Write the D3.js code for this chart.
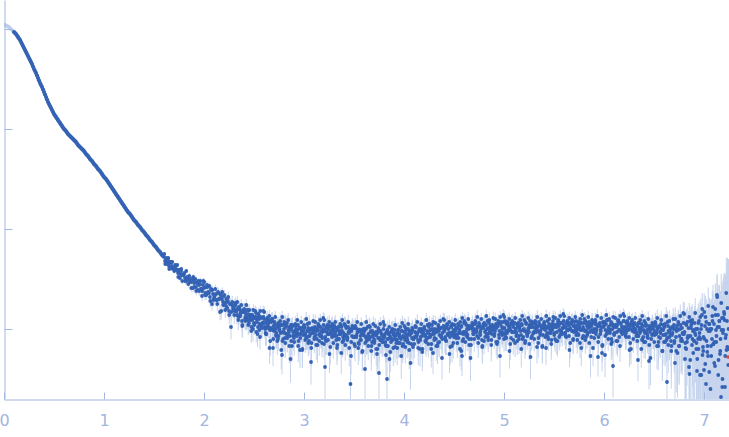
<!DOCTYPE html>
<html><head><meta charset="utf-8">
<script src="https://cdn.jsdelivr.net/npm/d3@7"></script>
<style>body{margin:0;background:#fff}svg{display:block}</style>
</head><body>
<svg id="c" width="729" height="437"></svg>
<script>
// Scattering curve: q (x) vs log10 I (y)
const excludedQ = [0.01,0.03,0.05,0.07,0.09];
const excludedLogI = [0.04,0.03,0.02,0.00,-0.02];

const smoothQ = [
0.10,0.11,0.12,0.13,0.14,0.15,0.16,0.17,0.18,0.19,
0.20,0.21,0.22,0.23,0.24,0.25,0.26,0.27,0.28,0.29,
0.30,0.31,0.32,0.33,0.34,0.35,0.36,0.37,0.38,0.39,
0.40,0.41,0.42,0.43,0.44,0.45,0.46,0.47,0.48,0.49,
0.50,0.51,0.52,0.53,0.54,0.55,0.56,0.57,0.58,0.59,
0.60,0.61,0.62,0.63,0.64,0.65,0.66,0.67,0.68,0.69,
0.70,0.71,0.72,0.73,0.74,0.75,0.76,0.77,0.78,0.79,
0.80,0.81,0.82,0.83,0.84,0.85,0.86,0.87,0.88,0.89,
0.90,0.91,0.92,0.93,0.94,0.95,0.96,0.97,0.98,0.99,
1.00,1.01,1.02,1.03,1.04,1.05,1.06,1.07,1.08,1.09,
1.10,1.11,1.12,1.13,1.14,1.15,1.16,1.17,1.18,1.19,
1.20,1.21,1.22,1.23,1.24,1.25,1.26,1.27,1.28,1.29,
1.30,1.31,1.32,1.33,1.34,1.35,1.36,1.37,1.38,1.39,
1.40,1.41,1.42,1.43,1.44,1.45,1.46,1.47,1.48,1.49,
1.50,1.51,1.52,1.53,1.54,1.55,1.56,1.57,1.58,1.59];
const smoothLogI = [
-0.03,-0.04,-0.05,-0.065,-0.08,-0.095,-0.11,-0.13,-0.15,-0.17,
-0.19,-0.21,-0.23,-0.25,-0.27,-0.29,-0.31,-0.33,-0.35,-0.375,
-0.40,-0.42,-0.44,-0.465,-0.49,-0.515,-0.54,-0.56,-0.58,-0.605,
-0.63,-0.655,-0.68,-0.705,-0.73,-0.75,-0.77,-0.79,-0.81,-0.83,
-0.85,-0.865,-0.88,-0.895,-0.91,-0.925,-0.94,-0.955,-0.97,-0.985,
-1.00,-1.01,-1.02,-1.035,-1.05,-1.06,-1.07,-1.08,-1.09,-1.10,
-1.11,-1.12,-1.13,-1.145,-1.16,-1.17,-1.18,-1.19,-1.20,-1.21,
-1.22,-1.235,-1.25,-1.26,-1.27,-1.285,-1.30,-1.31,-1.32,-1.335,
-1.35,-1.36,-1.37,-1.385,-1.40,-1.41,-1.42,-1.435,-1.45,-1.465,
-1.48,-1.49,-1.50,-1.515,-1.53,-1.545,-1.56,-1.575,-1.59,-1.605,
-1.62,-1.635,-1.65,-1.665,-1.68,-1.695,-1.71,-1.725,-1.74,-1.755,
-1.77,-1.785,-1.80,-1.815,-1.83,-1.84,-1.85,-1.865,-1.88,-1.895,
-1.91,-1.92,-1.93,-1.945,-1.96,-1.97,-1.98,-1.995,-2.01,-2.02,
-2.03,-2.045,-2.06,-2.07,-2.08,-2.095,-2.11,-2.12,-2.13,-2.145,
-2.16,-2.17,-2.18,-2.195,-2.21,-2.22,-2.23,-2.245,-2.26,-2.27];

const noisyQ = [
1.60,1.61,1.62,1.63,1.64,1.65,1.66,1.67,1.68,1.69,
1.70,1.71,1.72,1.73,1.74,1.75,1.76,1.77,1.78,1.79,
1.80,1.81,1.82,1.83,1.84,1.85,1.86,1.87,1.88,1.89,
1.90,1.91,1.92,1.93,1.94,1.95,1.96,1.97,1.98,1.99,
2.00,2.01,2.02,2.03,2.04,2.05,2.06,2.07,2.08,2.09,
2.10,2.11,2.12,2.13,2.14,2.15,2.16,2.17,2.18,2.19,
2.20,2.21,2.22,2.23,2.24,2.25,2.26,2.27,2.28,2.29,
2.30,2.31,2.32,2.33,2.34,2.35,2.36,2.37,2.38,2.39,
2.40,2.41,2.42,2.43,2.44,2.45,2.46,2.47,2.48,2.49,
2.50,2.51,2.52,2.53,2.54,2.55,2.56,2.57,2.58,2.59,
2.60,2.61,2.62,2.63,2.64,2.65,2.66,2.67,2.68,2.69,
2.70,2.71,2.72,2.73,2.74,2.75,2.76,2.77,2.78,2.79,
2.80,2.81,2.82,2.83,2.84,2.85,2.86,2.87,2.88,2.89,
2.90,2.91,2.92,2.93,2.94,2.95,2.96,2.97,2.98,2.99,
3.00,3.01,3.02,3.03,3.04,3.05,3.06,3.07,3.08,3.09,
3.10,3.11,3.12,3.13,3.14,3.15,3.16,3.17,3.18,3.19,
3.20,3.21,3.22,3.23,3.24,3.25,3.26,3.27,3.28,3.29,
3.30,3.31,3.32,3.33,3.34,3.35,3.36,3.37,3.38,3.39,
3.40,3.41,3.42,3.43,3.44,3.45,3.46,3.47,3.48,3.49,
3.50,3.51,3.52,3.53,3.54,3.55,3.56,3.57,3.58,3.59,
3.60,3.61,3.62,3.63,3.64,3.65,3.66,3.67,3.68,3.69,
3.70,3.71,3.72,3.73,3.74,3.75,3.76,3.77,3.78,3.79,
3.80,3.81,3.82,3.83,3.84,3.85,3.86,3.87,3.88,3.89,
3.90,3.91,3.92,3.93,3.94,3.95,3.96,3.97,3.98,3.99,
4.00,4.01,4.02,4.03,4.04,4.05,4.06,4.07,4.08,4.09,
4.10,4.11,4.12,4.13,4.14,4.15,4.16,4.17,4.18,4.19,
4.20,4.21,4.22,4.23,4.24,4.25,4.26,4.27,4.28,4.29,
4.30,4.31,4.32,4.33,4.34,4.35,4.36,4.37,4.38,4.39,
4.40,4.41,4.42,4.43,4.44,4.45,4.46,4.47,4.48,4.49,
4.50,4.51,4.52,4.53,4.54,4.55,4.56,4.57,4.58,4.59,
4.60,4.61,4.62,4.63,4.64,4.65,4.66,4.67,4.68,4.69,
4.70,4.71,4.72,4.73,4.74,4.75,4.76,4.77,4.78,4.79,
4.80,4.81,4.82,4.83,4.84,4.85,4.86,4.87,4.88,4.89,
4.90,4.91,4.92,4.93,4.94,4.95,4.96,4.97,4.98,4.99,
5.00,5.01,5.02,5.03,5.04,5.05,5.06,5.07,5.08,5.09,
5.10,5.11,5.12,5.13,5.14,5.15,5.16,5.17,5.18,5.19,
5.20,5.21,5.22,5.23,5.24,5.25,5.26,5.27,5.28,5.29,
5.30,5.31,5.32,5.33,5.34,5.35,5.36,5.37,5.38,5.39,
5.40,5.41,5.42,5.43,5.44,5.45,5.46,5.47,5.48,5.49,
5.50,5.51,5.52,5.53,5.54,5.55,5.56,5.57,5.58,5.59,
5.60,5.61,5.62,5.63,5.64,5.65,5.66,5.67,5.68,5.69,
5.70,5.71,5.72,5.73,5.74,5.75,5.76,5.77,5.78,5.79,
5.80,5.81,5.82,5.83,5.84,5.85,5.86,5.87,5.88,5.89,
5.90,5.91,5.92,5.93,5.94,5.95,5.96,5.97,5.98,5.99,
6.00,6.01,6.02,6.03,6.04,6.05,6.06,6.07,6.08,6.09,
6.10,6.11,6.12,6.13,6.14,6.15,6.16,6.17,6.18,6.19,
6.20,6.21,6.22,6.23,6.24,6.25,6.26,6.27,6.28,6.29,
6.30,6.31,6.32,6.33,6.34,6.35,6.36,6.37,6.38,6.39,
6.40,6.41,6.42,6.43,6.44,6.45,6.46,6.47,6.48,6.49,
6.50,6.51,6.52,6.53,6.54,6.55,6.56,6.57,6.58,6.59,
6.60,6.61,6.62,6.63,6.64,6.65,6.66,6.67,6.68,6.69,
6.70,6.71,6.72,6.73,6.74,6.75,6.76,6.77,6.78,6.79,
6.80,6.81,6.82,6.83,6.84,6.85,6.86,6.87,6.88,6.89,
6.90,6.91,6.92,6.93,6.94,6.95,6.96,6.97,6.98,6.99,
7.00,7.01,7.02,7.03,7.04,7.05,7.06,7.07,7.08,7.09,
7.10,7.11,7.12,7.13,7.14,7.15,7.16,7.17,7.18,7.19,
7.20,7.21,7.22,7.23,7.24];

const noisyLogI = [
-2.28,-2.32,-2.31,-2.33,-2.31,-2.37,-2.34,-2.33,-2.37,-2.40,
-2.40,-2.38,-2.37,-2.41,-2.44,-2.41,-2.49,-2.42,-2.46,-2.46,
-2.45,-2.49,-2.52,-2.48,-2.50,-2.49,-2.53,-2.53,-2.50,-2.59,
-2.54,-2.53,-2.58,-2.54,-2.61,-2.56,-2.55,-2.60,-2.67,-2.56,
-2.59,-2.66,-2.58,-2.56,-2.64,-2.64,-2.68,-2.60,-2.75,-2.65,
-2.70,-2.66,-2.65,-2.71,-2.63,-2.70,-2.83,-2.67,-2.70,-2.73,
-2.67,-2.74,-2.77,-2.73,-2.72,-2.82,-2.75,-2.98,-2.76,-2.79,
-2.79,-2.76,-2.82,-2.86,-2.80,-2.78,-2.86,-2.82,-2.92,-2.82,
-2.83,-2.90,-2.85,-2.89,-2.82,-2.94,-2.88,-2.86,-2.91,-3.00,
-2.94,-2.89,-2.84,-2.93,-2.98,-2.90,-3.08,-2.89,-2.96,-2.94,
-2.90,-2.98,-3.05,-2.94,-2.97,-2.91,-3.01,-3.00,-2.90,-3.19,
-3.00,-2.95,-3.06,-2.97,-3.10,-2.99,-2.96,-3.04,-3.26,-2.96,
-3.00,-3.09,-2.98,-2.94,-3.05,-3.03,-3.07,-2.96,-3.17,-3.03,
-3.09,-3.02,-3.00,-3.07,-2.96,-3.05,-3.21,-2.99,-3.02,-3.06,
-2.96,-3.05,-3.08,-3.02,-2.99,-3.12,-3.01,-3.33,-3.00,-3.04,
-3.03,-2.98,-3.06,-3.10,-3.01,-2.97,-3.07,-3.02,-3.14,-3.00,
-3.15,-3.38,-2.99,-3.03,-3.11,-2.97,-3.05,-3.02,-3.08,-3.00,
-3.03,-3.06,-2.99,-3.19,-3.01,-3.10,-3.05,-2.97,-3.02,-3.08,
-3.10,-2.96,-3.06,-3.08,-2.98,-3.04,-3.02,-3.27,-3.07,-2.99,
-2.99,-3.17,-3.08,-3.00,-3.03,-3.15,-3.02,-3.11,-3.01,-3.06,
-3.06,-3.40,-3.00,-3.11,-3.07,-3.09,-2.98,-3.02,-3.13,-3.04,
-3.10,-3.06,-3.03,-3.25,-3.09,-3.44,-3.11,-3.04,-3.06,-3.13,
-3.09,-3.05,-3.26,-3.50,-3.17,-3.04,-3.07,-3.13,-3.10,-3.01,
-3.04,-3.18,-3.06,-3.11,-3.01,-3.05,-3.14,-3.10,-3.02,-3.07,
-3.03,-3.11,-3.05,-3.08,-3.00,-3.14,-3.06,-3.02,-3.09,-3.18,
-3.09,-3.03,-2.98,-3.06,-3.11,-3.02,-3.20,-3.00,-3.07,-3.04,
-2.99,-3.07,-3.13,-3.02,-3.04,-2.98,-3.08,-3.06,-2.96,-3.24,
-3.05,-3.00,-3.10,-3.01,-3.14,-3.02,-2.99,-3.07,-3.29,-2.98,
-3.01,-3.10,-2.99,-2.95,-3.06,-3.04,-3.08,-2.97,-3.17,-3.03,
-3.08,-3.01,-2.99,-3.06,-2.95,-3.04,-3.20,-2.98,-3.27,-3.05,
-2.94,-3.03,-3.06,-3.00,-2.97,-3.10,-2.99,-3.16,-2.98,-3.02,
-3.00,-2.95,-3.03,-3.07,-2.98,-2.94,-3.04,-2.99,-3.11,-2.97,
-3.12,-3.03,-2.96,-3.00,-3.08,-2.94,-3.02,-2.99,-3.05,-2.97,
-2.99,-3.02,-2.95,-3.15,-2.97,-3.06,-3.27,-2.93,-2.98,-3.04,
-3.10,-2.92,-3.02,-3.04,-2.94,-3.00,-2.98,-3.09,-3.03,-2.95,
-2.94,-3.14,-3.03,-2.95,-2.98,-3.10,-2.97,-3.06,-2.96,-3.01,
-3.00,-3.14,-2.94,-3.05,-3.01,-3.03,-2.92,-2.96,-3.07,-2.98,
-3.03,-2.99,-2.96,-3.18,-3.02,-2.93,-3.04,-2.97,-2.99,-3.06,
-3.00,-2.97,-3.19,-2.98,-3.08,-2.95,-2.99,-3.04,-3.01,-2.92,
-2.96,-3.10,-2.98,-3.03,-2.93,-2.97,-3.06,-3.02,-2.94,-2.99,
-2.96,-3.04,-2.98,-3.01,-2.93,-3.07,-2.99,-2.95,-3.02,-3.11,
-3.03,-2.97,-2.92,-3.00,-3.05,-2.96,-3.14,-2.94,-3.01,-2.98,
-2.94,-3.02,-3.08,-2.97,-2.99,-2.93,-3.03,-3.01,-2.91,-3.19,
-3.00,-2.95,-3.05,-2.96,-3.28,-2.97,-2.94,-3.02,-3.24,-2.93,
-2.97,-3.26,-2.95,-2.91,-3.02,-3.00,-3.04,-2.93,-3.13,-3.37,
-3.05,-2.98,-2.96,-3.03,-2.92,-3.01,-3.17,-2.95,-2.98,-3.02,
-2.92,-3.01,-3.04,-2.98,-2.95,-3.08,-2.97,-3.20,-2.96,-3.00,
-3.00,-2.95,-3.03,-3.07,-3.31,-2.94,-3.04,-2.99,-3.11,-2.97,
-3.13,-3.04,-2.97,-3.01,-3.09,-3.32,-3.03,-3.00,-3.06,-2.98,
-3.01,-3.04,-2.97,-3.17,-2.99,-3.08,-3.03,-2.95,-3.00,-3.06,
-3.13,-2.95,-3.05,-3.53,-2.97,-3.03,-3.01,-3.12,-3.06,-2.98,
-2.96,-3.34,-3.08,-2.97,-3.01,-3.17,-3.00,-3.12,-2.99,-3.05,
-3.05,-3.30,-2.95,-3.13,-3.07,-3.38,-2.92,-2.99,-3.16,-3.02,
-3.12,-3.04,-3.00,-3.42,-3.10,-2.92,-3.46,-3.00,-2.86,-3.18,
-3.41,-2.97,-3.55,-3.00,-3.27,-2.95,-3.02,-3.17,-3.10,-2.78,
-2.95,-3.37,-3.01,-2.66,-2.86,-2.98,-3.25,-3.68,-2.89,-3.04,
-2.83,-3.58,-3.06,-2.92,-3.20];

// error (sigma) of I, in units of 1e-4
const noisySigmaE4 = [
/*1.6*/1.5,1.5,1.6,1.5,1.6,1.5,1.7,1.6,1.7,1.8,
/*1.7*/1.8,1.9,2.0,1.9,2.0,2.1,2.0,2.1,2.0,2.1,
/*1.8*/2.0,2.1,2.2,2.1,2.2,2.0,2.2,2.3,2.2,2.3,
/*1.9*/2.2,2.3,2.2,2.4,2.3,2.4,2.3,2.4,2.5,2.4,
/*2.0*/2.5,2.4,2.6,2.5,2.4,2.6,2.5,2.7,2.5,2.6,
/*2.1*/2.6,2.5,2.7,2.6,2.7,2.5,2.6,2.7,2.8,2.6,
/*2.2*/2.6,2.7,2.5,2.7,2.6,2.7,2.8,2.6,2.7,2.8,
/*2.3*/2.6,2.7,2.5,2.7,2.6,2.7,2.6,2.5,2.7,2.6,
/*2.4*/2.4,2.5,2.3,2.5,2.4,2.5,2.4,2.3,2.4,2.5,
/*2.5*/2.1,2,2.2,2.1,1.9,2.3,2.1,2.2,2,2.1,
/*2.6*/2,2.2,2.1,2.3,2.1,2,2.2,1.9,2.1,2.2,
/*2.7*/2.1,2,2.2,2.1,1.9,2.3,2.1,2.2,2,2.1,
/*2.8*/2,2.2,2.1,2.3,2.1,2,2.2,1.9,2.1,2.2,
/*2.9*/2.1,2,2.2,2.1,1.9,2.3,2.1,2.2,2,2.1,
/*3.0*/2,2.2,2.1,2.3,2.1,2,2.2,1.9,2.1,2.2,
/*3.1*/2.1,2,2.2,2.1,1.9,2.3,2.1,2.2,2,2.1,
/*3.2*/2,2.2,2.1,2.3,2.1,2,2.2,1.9,2.1,2.2,
/*3.3*/2.1,2,2.2,2.1,1.9,2.3,2.1,2.2,2,2.1,
/*3.4*/2,2.2,2.1,2.3,2.1,2,2.2,1.9,2.1,2.2,
/*3.5*/2.1,2,2.2,2.1,1.9,2.3,2.1,2.2,2,2.1,
/*3.6*/2,2.2,2.1,2.3,2.1,2,2.2,1.9,2.1,2.2,
/*3.7*/2.1,2,2.2,2.1,1.9,2.3,2.1,2.2,2,2.1,
/*3.8*/2,2.2,2.1,2.3,2.1,2,2.2,1.9,2.1,2.2,
/*3.9*/2.1,2,2.2,2.1,1.9,2.3,2.1,2.2,2,2.1,
/*4.0*/2,2.2,2.1,2.3,2.1,2,2.2,1.9,2.1,2.2,
/*4.1*/2.1,2,2.2,2.1,1.9,2.3,2.1,2.2,2,2.1,
/*4.2*/2,2.2,2.1,2.3,2.1,2,2.2,1.9,2.1,2.2,
/*4.3*/2.1,2,2.2,2.1,1.9,2.3,2.1,2.2,2,2.1,
/*4.4*/2,2.2,2.1,2.3,2.1,2,2.2,1.9,2.1,2.2,
/*4.5*/2.1,2,2.2,2.1,1.9,2.3,2.1,2.2,2,2.1,
/*4.6*/2,2.2,2.1,2.3,2.1,2,2.2,1.9,2.1,2.2,
/*4.7*/2.1,2,2.2,2.1,1.9,2.3,2.1,2.2,2,2.1,
/*4.8*/2,2.2,2.1,2.3,2.1,2,2.2,1.9,2.1,2.2,
/*4.9*/2.1,2,2.2,2.1,1.9,2.3,2.1,2.2,2,2.1,
/*5.0*/2,2.2,2.1,2.3,2.1,2,2.2,1.9,2.1,2.2,
/*5.1*/2.1,2,2.2,2.1,1.9,2.3,2.1,2.2,2,2.1,
/*5.2*/2,2.2,2.1,2.3,2.1,2,2.2,1.9,2.1,2.2,
/*5.3*/2.1,2,2.2,2.1,1.9,2.3,2.1,2.2,2,2.1,
/*5.4*/2,2.2,2.1,2.3,2.1,2,2.2,1.9,2.1,2.2,
/*5.5*/2.1,2,2.2,2.1,1.9,2.3,2.1,2.2,2,2.1,
/*5.6*/2,2.2,2.1,2.3,2.1,2,2.2,1.9,2.1,2.2,
/*5.7*/2.1,2,2.2,2.1,1.9,2.3,2.1,2.2,2,2.1,
/*5.8*/2,2.2,2.1,2.3,2.1,2,2.2,1.9,2.1,2.2,
/*5.9*/2.1,2,2.2,2.1,1.9,2.3,2.1,2.2,2,2.1,
/*6.0*/2,2.2,2.1,2.3,2.1,2,2.2,1.9,2.1,2.2,
/*6.1*/2.1,2,2.2,2.1,1.9,2.3,2.1,2.2,2,2.1,
/*6.2*/2,2.2,2.1,2.3,2.1,2,2.2,1.9,2.1,2.2,
/*6.3*/2.1,2,2.2,2.1,1.9,2.3,2.1,2.2,2,2.1,
/*6.4*/2.3,2.2,2.4,2.3,2.5,2.3,2.4,2.5,2.4,2.6,
/*6.5*/2.6,2.7,2.6,2.8,2.7,2.9,2.8,2.9,3.0,2.9,
/*6.6*/3.0,3.1,3.0,3.2,3.1,3.3,3.2,3.4,3.3,3.5,
/*6.7*/3.5,3.6,3.7,3.6,3.8,3.9,3.8,4.0,4.1,4.2,
/*6.8*/4.3,4.5,4.4,4.7,4.6,4.9,4.8,5.1,5.2,5.4,
/*6.9*/5.5,5.8,5.7,6.1,6.0,6.4,6.3,6.7,6.9,7.2,
/*7.0*/7.6,8.0,7.9,8.5,8.7,9.3,9.1,9.9,10.3,11,
/*7.1*/11.5,12.3,12.6,13.5,14,15,15.5,16.5,17.5,19,
/*7.2*/21,24,28,33,38];

// second interleaved set
const halfQ = [
2.305,2.315,2.325,2.335,2.345,2.355,2.365,2.375,2.385,2.395,
2.405,2.415,2.425,2.435,2.445,2.455,2.465,2.475,2.485,2.495,
2.505,2.515,2.525,2.535,2.545,2.555,2.565,2.575,2.585,2.595,
2.605,2.615,2.625,2.635,2.645,2.655,2.665,2.675,2.685,2.695,
2.705,2.715,2.725,2.735,2.745,2.755,2.765,2.775,2.785,2.795,
2.805,2.815,2.825,2.835,2.845,2.855,2.865,2.875,2.885,2.895,
2.905,2.915,2.925,2.935,2.945,2.955,2.965,2.975,2.985,2.995,
3.005,3.015,3.025,3.035,3.045,3.055,3.065,3.075,3.085,3.095,
3.105,3.115,3.125,3.135,3.145,3.155,3.165,3.175,3.185,3.195,
3.205,3.215,3.225,3.235,3.245,3.255,3.265,3.275,3.285,3.295,
3.305,3.315,3.325,3.335,3.345,3.355,3.365,3.375,3.385,3.395,
3.405,3.415,3.425,3.435,3.445,3.455,3.465,3.475,3.485,3.495,
3.505,3.515,3.525,3.535,3.545,3.555,3.565,3.575,3.585,3.595,
3.605,3.615,3.625,3.635,3.645,3.655,3.665,3.675,3.685,3.695,
3.705,3.715,3.725,3.735,3.745,3.755,3.765,3.775,3.785,3.795,
3.805,3.815,3.825,3.835,3.845,3.855,3.865,3.875,3.885,3.895,
3.905,3.915,3.925,3.935,3.945,3.955,3.965,3.975,3.985,3.995,
4.005,4.015,4.025,4.035,4.045,4.055,4.065,4.075,4.085,4.095,
4.105,4.115,4.125,4.135,4.145,4.155,4.165,4.175,4.185,4.195,
4.205,4.215,4.225,4.235,4.245,4.255,4.265,4.275,4.285,4.295,
4.305,4.315,4.325,4.335,4.345,4.355,4.365,4.375,4.385,4.395,
4.405,4.415,4.425,4.435,4.445,4.455,4.465,4.475,4.485,4.495,
4.505,4.515,4.525,4.535,4.545,4.555,4.565,4.575,4.585,4.595,
4.605,4.615,4.625,4.635,4.645,4.655,4.665,4.675,4.685,4.695,
4.705,4.715,4.725,4.735,4.745,4.755,4.765,4.775,4.785,4.795,
4.805,4.815,4.825,4.835,4.845,4.855,4.865,4.875,4.885,4.895,
4.905,4.915,4.925,4.935,4.945,4.955,4.965,4.975,4.985,4.995,
5.005,5.015,5.025,5.035,5.045,5.055,5.065,5.075,5.085,5.095,
5.105,5.115,5.125,5.135,5.145,5.155,5.165,5.175,5.185,5.195,
5.205,5.215,5.225,5.235,5.245,5.255,5.265,5.275,5.285,5.295,
5.305,5.315,5.325,5.335,5.345,5.355,5.365,5.375,5.385,5.395,
5.405,5.415,5.425,5.435,5.445,5.455,5.465,5.475,5.485,5.495,
5.505,5.515,5.525,5.535,5.545,5.555,5.565,5.575,5.585,5.595,
5.605,5.615,5.625,5.635,5.645,5.655,5.665,5.675,5.685,5.695,
5.705,5.715,5.725,5.735,5.745,5.755,5.765,5.775,5.785,5.795,
5.805,5.815,5.825,5.835,5.845,5.855,5.865,5.875,5.885,5.895,
5.905,5.915,5.925,5.935,5.945,5.955,5.965,5.975,5.985,5.995,
6.005,6.015,6.025,6.035,6.045,6.055,6.065,6.075,6.085,6.095,
6.105,6.115,6.125,6.135,6.145,6.155,6.165,6.175,6.185,6.195,
6.205,6.215,6.225,6.235,6.245,6.255,6.265,6.275,6.285,6.295,
6.305,6.315,6.325,6.335,6.345,6.355,6.365,6.375,6.385,6.395,
6.405,6.415,6.425,6.435,6.445,6.455,6.465,6.475,6.485,6.495,
6.505,6.515,6.525,6.535,6.545,6.555,6.565,6.575,6.585,6.595,
6.605,6.615,6.625,6.635,6.645,6.655,6.665,6.675,6.685,6.695,
6.705,6.715,6.725,6.735,6.745,6.755,6.765,6.775,6.785,6.795,
6.805,6.815,6.825,6.835,6.845,6.855,6.865,6.875,6.885,6.895,
6.905,6.915,6.925,6.935,6.945,6.955,6.965,6.975,6.985,6.995,
7.005,7.015,7.025,7.035,7.045,7.055,7.065,7.075,7.085,7.095,
7.105,7.115,7.125,7.135,7.145,7.155,7.165,7.175,7.185,7.195,
7.205,7.215,7.225,7.235,7.245];

const halfLogI = [
/*2.3*/-2.82,-2.76,-2.82,-2.80,-2.88,-2.80,-2.84,-2.83,-2.96,-2.81,
/*2.4*/-2.82,-2.88,-2.91,-2.81,-2.86,-2.91,-2.86,-2.98,-2.90,-2.88,
/*2.5*/-2.95,-2.88,-2.90,-3.05,-2.86,-2.95,-2.88,-2.98,-2.94,-2.88,
/*2.6*/-2.94,-3.04,-2.91,-2.98,-2.94,-3.19,-2.99,-2.92,-3.01,-2.97,
/*2.7*/-2.93,-3.00,-3.04,-2.97,-3.07,-3.00,-3.03,-2.96,-3.12,-3.03,
/*2.8*/-3.04,-2.95,-3.05,-3.07,-3.01,-2.98,-3.30,-3.00,-2.97,-3.07,
/*2.9*/-3.06,-2.97,-3.04,-3.01,-3.12,-2.99,-3.05,-3.02,-3.20,-2.98,
/*3.0*/-2.99,-3.05,-3.09,-2.95,-3.02,-3.07,-3.00,-3.14,-3.04,-3.01,
/*3.1*/-3.08,-3.00,-3.02,-3.16,-2.97,-3.05,-2.98,-3.07,-3.03,-2.96,
/*3.2*/-3.02,-3.11,-2.98,-3.05,-3.00,-3.25,-3.04,-2.97,-3.06,-3.01,
/*3.3*/-2.97,-3.03,-3.07,-3.00,-3.10,-3.02,-3.05,-2.98,-3.13,-3.04,
/*3.4*/-3.06,-2.97,-3.07,-3.09,-3.03,-3.00,-3.55,-3.02,-2.99,-3.08,
/*3.5*/-3.08,-2.99,-3.06,-3.03,-3.14,-3.01,-3.07,-3.04,-3.22,-3.00,
/*3.6*/-3.02,-3.08,-3.12,-2.98,-3.05,-3.10,-3.03,-3.17,-3.07,-3.04,
/*3.7*/-3.12,-3.04,-3.06,-3.20,-3.01,-3.09,-3.02,-3.11,-3.07,-3.00,
/*3.8*/-3.07,-3.16,-3.03,-3.10,-3.05,-3.30,-3.09,-3.02,-3.11,-3.06,
/*3.9*/-3.01,-3.07,-3.11,-3.04,-3.14,-3.06,-3.09,-3.02,-3.17,-3.08,
/*4.0*/-3.08,-2.99,-3.09,-3.11,-3.05,-3.02,-3.34,-3.04,-3.01,-3.10,
/*4.1*/-3.08,-2.98,-3.05,-3.04,-3.13,-3.00,-3.08,-3.03,-3.20,-3.01,
/*4.2*/-3.00,-3.06,-3.10,-2.96,-3.03,-3.08,-3.01,-3.15,-3.05,-3.02,
/*4.3*/-3.09,-3.01,-3.03,-3.17,-2.98,-3.06,-2.99,-3.08,-3.04,-2.97,
/*4.4*/-3.02,-3.11,-2.98,-3.05,-3.00,-3.25,-3.04,-2.97,-3.06,-3.01,
/*4.5*/-2.96,-3.02,-3.06,-2.99,-3.09,-3.01,-3.04,-2.97,-3.12,-3.03,
/*4.6*/-3.03,-2.94,-3.04,-3.06,-3.00,-2.97,-3.29,-2.99,-2.96,-3.05,
/*4.7*/-3.03,-2.94,-3.01,-2.98,-3.09,-2.96,-3.02,-2.99,-3.17,-2.95,
/*4.8*/-2.96,-3.02,-3.06,-2.92,-2.99,-3.04,-2.97,-3.11,-3.01,-2.98,
/*4.9*/-3.05,-2.97,-2.99,-3.13,-2.94,-3.02,-2.95,-3.04,-3.00,-2.93,
/*5.0*/-2.99,-3.08,-2.95,-3.02,-2.97,-3.22,-3.01,-2.94,-3.03,-2.98,
/*5.1*/-2.94,-3.00,-3.04,-2.97,-3.07,-2.99,-3.02,-2.95,-3.10,-3.01,
/*5.2*/-3.02,-2.93,-3.03,-3.05,-2.99,-2.96,-3.28,-2.98,-2.95,-3.04,
/*5.3*/-3.03,-2.94,-3.01,-2.98,-3.09,-2.96,-3.02,-2.99,-3.17,-2.95,
/*5.4*/-2.96,-3.01,-3.06,-2.92,-2.99,-3.04,-2.97,-3.11,-3.00,-2.98,
/*5.5*/-3.04,-2.96,-2.98,-3.12,-2.93,-3.01,-2.94,-3.03,-2.99,-2.92,
/*5.6*/-2.98,-3.07,-2.94,-3.01,-2.96,-3.21,-3.00,-2.93,-3.02,-2.97,
/*5.7*/-2.93,-2.99,-3.03,-2.96,-3.06,-2.98,-3.01,-2.94,-3.09,-3.00,
/*5.8*/-3.01,-2.92,-3.02,-3.04,-2.98,-2.95,-3.27,-2.97,-2.94,-3.03,
/*5.9*/-3.02,-2.93,-3.00,-2.97,-3.08,-2.95,-3.01,-2.98,-3.16,-2.94,
/*6.0*/-2.95,-3.01,-3.05,-2.91,-2.98,-3.03,-2.96,-3.10,-3.00,-2.97,
/*6.1*/-3.04,-2.96,-2.98,-3.12,-2.93,-3.01,-2.94,-3.03,-2.99,-2.92,
/*6.2*/-2.98,-3.07,-2.94,-3.01,-2.96,-3.21,-3.00,-2.93,-3.02,-2.97,
/*6.3*/-2.94,-3.00,-3.04,-2.97,-3.07,-2.99,-3.02,-2.95,-3.10,-3.01,
/*6.4*/-3.03,-2.94,-3.04,-3.06,-3.00,-2.97,-3.29,-2.99,-2.96,-3.05,
/*6.5*/-3.06,-2.95,-3.03,-3.00,-3.13,-2.97,-3.04,-3.01,-3.22,-2.96,
/*6.6*/-2.98,-3.06,-3.11,-2.93,-3.02,-3.08,-2.99,-3.17,-3.04,-3.00,
/*6.7*/-3.12,-3.00,-3.02,-3.24,-2.95,-3.07,-2.96,-3.10,-3.04,-2.94,
/*6.8*/-3.03,-3.19,-2.96,-3.09,-2.99,-3.45,-3.07,-2.94,-3.10,-3.01,
/*6.9*/-2.94,-3.06,-3.14,-3.00,-3.20,-3.04,-3.10,-2.96,-3.26,-3.08,
/*7.0*/-3.10,-2.88,-3.12,-3.17,-3.02,-2.95,-3.60,-3.00,-2.92,-3.15,
/*7.1*/-3.13,-2.86,-3.07,-2.98,-3.31,-2.92,-3.10,-3.01,-3.50,-2.89,
/*7.2*/-2.91,-3.09,-3.21,-2.79,-3.00];

const halfSigmaE4 = [
/*2.3*/2.6,2.7,2.6,2.7,2.8,2.6,2.7,2.8,2.7,2.8,
/*2.4*/2.5,2.4,2.6,2.5,2.4,2.5,2.6,2.4,2.5,2.6,
/*2.5*/2.2,2.1,2,2.3,2.1,2.2,1.9,2.1,2.2,2,
/*2.6*/2.1,2.3,2,2.1,2.2,2,2.1,2.3,2.1,1.9,
/*2.7*/2.2,2.1,2,2.3,2.1,2.2,1.9,2.1,2.2,2,
/*2.8*/2.1,2.3,2,2.1,2.2,2,2.1,2.3,2.1,1.9,
/*2.9*/2.2,2.1,2,2.3,2.1,2.2,1.9,2.1,2.2,2,
/*3.0*/2.1,2.3,2,2.1,2.2,2,2.1,2.3,2.1,1.9,
/*3.1*/2.2,2.1,2,2.3,2.1,2.2,1.9,2.1,2.2,2,
/*3.2*/2.1,2.3,2,2.1,2.2,2,2.1,2.3,2.1,1.9,
/*3.3*/2.2,2.1,2,2.3,2.1,2.2,1.9,2.1,2.2,2,
/*3.4*/2.1,2.3,2,2.1,2.2,2,2.1,2.3,2.1,1.9,
/*3.5*/2.2,2.1,2,2.3,2.1,2.2,1.9,2.1,2.2,2,
/*3.6*/2.1,2.3,2,2.1,2.2,2,2.1,2.3,2.1,1.9,
/*3.7*/2.2,2.1,2,2.3,2.1,2.2,1.9,2.1,2.2,2,
/*3.8*/2.1,2.3,2,2.1,2.2,2,2.1,2.3,2.1,1.9,
/*3.9*/2.2,2.1,2,2.3,2.1,2.2,1.9,2.1,2.2,2,
/*4.0*/2.1,2.3,2,2.1,2.2,2,2.1,2.3,2.1,1.9,
/*4.1*/2.2,2.1,2,2.3,2.1,2.2,1.9,2.1,2.2,2,
/*4.2*/2.1,2.3,2,2.1,2.2,2,2.1,2.3,2.1,1.9,
/*4.3*/2.2,2.1,2,2.3,2.1,2.2,1.9,2.1,2.2,2,
/*4.4*/2.1,2.3,2,2.1,2.2,2,2.1,2.3,2.1,1.9,
/*4.5*/2.2,2.1,2,2.3,2.1,2.2,1.9,2.1,2.2,2,
/*4.6*/2.1,2.3,2,2.1,2.2,2,2.1,2.3,2.1,1.9,
/*4.7*/2.2,2.1,2,2.3,2.1,2.2,1.9,2.1,2.2,2,
/*4.8*/2.1,2.3,2,2.1,2.2,2,2.1,2.3,2.1,1.9,
/*4.9*/2.2,2.1,2,2.3,2.1,2.2,1.9,2.1,2.2,2,
/*5.0*/2.1,2.3,2,2.1,2.2,2,2.1,2.3,2.1,1.9,
/*5.1*/2.2,2.1,2,2.3,2.1,2.2,1.9,2.1,2.2,2,
/*5.2*/2.1,2.3,2,2.1,2.2,2,2.1,2.3,2.1,1.9,
/*5.3*/2.2,2.1,2,2.3,2.1,2.2,1.9,2.1,2.2,2,
/*5.4*/2.1,2.3,2,2.1,2.2,2,2.1,2.3,2.1,1.9,
/*5.5*/2.2,2.1,2,2.3,2.1,2.2,1.9,2.1,2.2,2,
/*5.6*/2.1,2.3,2,2.1,2.2,2,2.1,2.3,2.1,1.9,
/*5.7*/2.2,2.1,2,2.3,2.1,2.2,1.9,2.1,2.2,2,
/*5.8*/2.1,2.3,2,2.1,2.2,2,2.1,2.3,2.1,1.9,
/*5.9*/2.2,2.1,2,2.3,2.1,2.2,1.9,2.1,2.2,2,
/*6.0*/2.1,2.3,2,2.1,2.2,2,2.1,2.3,2.1,1.9,
/*6.1*/2.2,2.1,2,2.3,2.1,2.2,1.9,2.1,2.2,2,
/*6.2*/2.1,2.3,2,2.1,2.2,2,2.1,2.3,2.1,1.9,
/*6.3*/2.2,2.1,2,2.3,2.1,2.2,1.9,2.1,2.2,2,
/*6.4*/2.4,2.3,2.5,2.4,2.3,2.5,2.4,2.6,2.5,2.6,
/*6.5*/2.7,2.8,2.7,2.9,2.8,3.0,2.9,2.8,3.0,3.1,
/*6.6*/3.1,3.2,3.1,3.3,3.2,3.4,3.3,3.5,3.4,3.6,
/*6.7*/3.6,3.7,3.8,3.7,3.9,4.0,3.9,4.1,4.2,4.3,
/*6.8*/4.4,4.5,4.7,4.6,4.9,5.0,4.9,5.2,5.3,5.5,
/*6.9*/5.6,5.8,5.9,6.1,6.2,6.5,6.4,6.7,7.0,7.3,
/*7.0*/7.7,8.1,8.0,8.6,8.9,9.3,9.5,10,10.5,11.3,
/*7.1*/12,12.6,13.2,13.8,14.6,15.4,16.1,17,18,19.5,
/*7.2*/22,26,30,35,40];

// third interleaved set
const thirdQ = [
1.6025,1.6125,1.6225,1.6325,1.6425,1.6525,1.6625,1.6725,1.6825,1.6925,
1.7025,1.7125,1.7225,1.7325,1.7425,1.7525,1.7625,1.7725,1.7825,1.7925,
1.8025,1.8125,1.8225,1.8325,1.8425,1.8525,1.8625,1.8725,1.8825,1.8925,
1.9025,1.9125,1.9225,1.9325,1.9425,1.9525,1.9625,1.9725,1.9825,1.9925,
2.0025,2.0125,2.0225,2.0325,2.0425,2.0525,2.0625,2.0725,2.0825,2.0925,
2.1025,2.1125,2.1225,2.1325,2.1425,2.1525,2.1625,2.1725,2.1825,2.1925,
2.2025,2.2125,2.2225,2.2325,2.2425,2.2525,2.2625,2.2725,2.2825,2.2925,
2.3025,2.3125,2.3225,2.3325,2.3425,2.3525,2.3625,2.3725,2.3825,2.3925,
2.4025,2.4125,2.4225,2.4325,2.4425,2.4525,2.4625,2.4725,2.4825,2.4925,
2.5025,2.5125,2.5225,2.5325,2.5425,2.5525,2.5625,2.5725,2.5825,2.5925,
2.6025,2.6125,2.6225,2.6325,2.6425,2.6525,2.6625,2.6725,2.6825,2.6925,
2.7025,2.7125,2.7225,2.7325,2.7425,2.7525,2.7625,2.7725,2.7825,2.7925,
2.8025,2.8125,2.8225,2.8325,2.8425,2.8525,2.8625,2.8725,2.8825,2.8925,
2.9025,2.9125,2.9225,2.9325,2.9425,2.9525,2.9625,2.9725,2.9825,2.9925,
3.0025,3.0125,3.0225,3.0325,3.0425,3.0525,3.0625,3.0725,3.0825,3.0925,
3.1025,3.1125,3.1225,3.1325,3.1425,3.1525,3.1625,3.1725,3.1825,3.1925,
3.2025,3.2125,3.2225,3.2325,3.2425,3.2525,3.2625,3.2725,3.2825,3.2925,
3.3025,3.3125,3.3225,3.3325,3.3425,3.3525,3.3625,3.3725,3.3825,3.3925,
3.4025,3.4125,3.4225,3.4325,3.4425,3.4525,3.4625,3.4725,3.4825,3.4925,
3.5025,3.5125,3.5225,3.5325,3.5425,3.5525,3.5625,3.5725,3.5825,3.5925,
3.6025,3.6125,3.6225,3.6325,3.6425,3.6525,3.6625,3.6725,3.6825,3.6925,
3.7025,3.7125,3.7225,3.7325,3.7425,3.7525,3.7625,3.7725,3.7825,3.7925,
3.8025,3.8125,3.8225,3.8325,3.8425,3.8525,3.8625,3.8725,3.8825,3.8925,
3.9025,3.9125,3.9225,3.9325,3.9425,3.9525,3.9625,3.9725,3.9825,3.9925,
4.0025,4.0125,4.0225,4.0325,4.0425,4.0525,4.0625,4.0725,4.0825,4.0925,
4.1025,4.1125,4.1225,4.1325,4.1425,4.1525,4.1625,4.1725,4.1825,4.1925,
4.2025,4.2125,4.2225,4.2325,4.2425,4.2525,4.2625,4.2725,4.2825,4.2925,
4.3025,4.3125,4.3225,4.3325,4.3425,4.3525,4.3625,4.3725,4.3825,4.3925,
4.4025,4.4125,4.4225,4.4325,4.4425,4.4525,4.4625,4.4725,4.4825,4.4925,
4.5025,4.5125,4.5225,4.5325,4.5425,4.5525,4.5625,4.5725,4.5825,4.5925,
4.6025,4.6125,4.6225,4.6325,4.6425,4.6525,4.6625,4.6725,4.6825,4.6925,
4.7025,4.7125,4.7225,4.7325,4.7425,4.7525,4.7625,4.7725,4.7825,4.7925,
4.8025,4.8125,4.8225,4.8325,4.8425,4.8525,4.8625,4.8725,4.8825,4.8925,
4.9025,4.9125,4.9225,4.9325,4.9425,4.9525,4.9625,4.9725,4.9825,4.9925,
5.0025,5.0125,5.0225,5.0325,5.0425,5.0525,5.0625,5.0725,5.0825,5.0925,
5.1025,5.1125,5.1225,5.1325,5.1425,5.1525,5.1625,5.1725,5.1825,5.1925,
5.2025,5.2125,5.2225,5.2325,5.2425,5.2525,5.2625,5.2725,5.2825,5.2925,
5.3025,5.3125,5.3225,5.3325,5.3425,5.3525,5.3625,5.3725,5.3825,5.3925,
5.4025,5.4125,5.4225,5.4325,5.4425,5.4525,5.4625,5.4725,5.4825,5.4925,
5.5025,5.5125,5.5225,5.5325,5.5425,5.5525,5.5625,5.5725,5.5825,5.5925,
5.6025,5.6125,5.6225,5.6325,5.6425,5.6525,5.6625,5.6725,5.6825,5.6925,
5.7025,5.7125,5.7225,5.7325,5.7425,5.7525,5.7625,5.7725,5.7825,5.7925,
5.8025,5.8125,5.8225,5.8325,5.8425,5.8525,5.8625,5.8725,5.8825,5.8925,
5.9025,5.9125,5.9225,5.9325,5.9425,5.9525,5.9625,5.9725,5.9825,5.9925,
6.0025,6.0125,6.0225,6.0325,6.0425,6.0525,6.0625,6.0725,6.0825,6.0925,
6.1025,6.1125,6.1225,6.1325,6.1425,6.1525,6.1625,6.1725,6.1825,6.1925,
6.2025,6.2125,6.2225,6.2325,6.2425,6.2525,6.2625,6.2725,6.2825,6.2925,
6.3025,6.3125,6.3225,6.3325,6.3425,6.3525,6.3625,6.3725,6.3825,6.3925,
6.4025,6.4125,6.4225,6.4325,6.4425,6.4525,6.4625,6.4725,6.4825,6.4925,
6.5025,6.5125,6.5225,6.5325,6.5425,6.5525,6.5625,6.5725,6.5825,6.5925,
6.6025,6.6125,6.6225,6.6325,6.6425,6.6525,6.6625,6.6725,6.6825,6.6925,
6.7025,6.7125,6.7225,6.7325,6.7425,6.7525,6.7625,6.7725,6.7825,6.7925,
6.8025,6.8125,6.8225,6.8325,6.8425,6.8525,6.8625,6.8725,6.8825,6.8925,
6.9025,6.9125,6.9225,6.9325,6.9425,6.9525,6.9625,6.9725,6.9825,6.9925,
7.0025,7.0125,7.0225,7.0325,7.0425,7.0525,7.0625,7.0725,7.0825,7.0925,
7.1025,7.1125,7.1225,7.1325,7.1425,7.1525,7.1625,7.1725,7.1825,7.1925,
7.2025,7.2125,7.2225,7.2325,7.2425];

const thirdLogI = [
/*1.6*/-2.25,-2.35,-2.29,-2.35,-2.29,-2.40,-2.33,-2.39,-2.33,-2.39,
/*1.7*/-2.42,-2.36,-2.41,-2.36,-2.48,-2.41,-2.45,-2.40,-2.52,-2.46,
/*1.8*/-2.44,-2.52,-2.42,-2.51,-2.55,-2.47,-2.52,-2.59,-2.51,-2.48,
/*1.9*/-2.58,-2.50,-2.62,-2.54,-2.52,-2.62,-2.52,-2.60,-2.62,-2.52,
/*2.0*/-2.53,-2.64,-2.66,-2.58,-2.63,-2.57,-2.72,-2.61,-2.61,-2.71,
/*2.1*/-2.68,-2.60,-2.71,-2.75,-2.64,-2.70,-2.65,-2.82,-2.63,-2.76,
/*2.2*/-2.66,-2.81,-2.70,-2.79,-2.68,-2.86,-2.75,-2.83,-2.73,-2.81,
/*2.3*/-2.86,-2.74,-2.82,-2.73,-2.91,-2.79,-2.87,-2.76,-2.97,-2.83,
/*2.4*/-2.80,-2.92,-2.76,-2.91,-2.96,-2.81,-2.90,-3.02,-2.86,-2.81,
/*2.5*/-2.96,-2.82,-3.03,-2.89,-2.85,-3.01,-2.82,-2.98,-2.99,-2.82,
/*2.6*/-2.83,-3.00,-3.05,-2.89,-2.99,-2.87,-3.12,-2.93,-2.90,-3.10,
/*2.7*/-3.02,-2.88,-3.07,-3.12,-2.94,-3.01,-2.92,-3.21,-2.88,-3.10,
/*2.8*/-2.93,-3.14,-2.97,-3.09,-2.91,-3.17,-3.00,-3.12,-2.96,-3.07,
/*2.9*/-3.13,-2.95,-3.06,-2.91,-3.17,-2.99,-3.09,-2.93,-3.21,-3.02,
/*3.0*/-2.97,-3.11,-2.90,-3.08,-3.14,-2.94,-3.05,-3.19,-2.99,-2.92,
/*3.1*/-3.10,-2.93,-3.16,-3.00,-2.95,-3.12,-2.91,-3.07,-3.09,-2.89,
/*3.2*/-2.91,-3.08,-3.12,-2.96,-3.05,-2.93,-3.18,-2.98,-2.95,-3.14,
/*3.3*/-3.07,-2.93,-3.11,-3.16,-2.98,-3.05,-2.95,-3.24,-2.91,-3.12,
/*3.4*/-2.95,-3.16,-2.99,-3.11,-2.93,-3.19,-3.02,-3.13,-2.97,-3.08,
/*3.5*/-3.15,-2.97,-3.08,-2.93,-3.19,-3.01,-3.11,-2.95,-3.23,-3.04,
/*3.6*/-3.00,-3.14,-2.93,-3.11,-3.17,-2.97,-3.08,-3.22,-3.02,-2.95,
/*3.7*/-3.14,-2.97,-3.20,-3.04,-2.99,-3.16,-2.95,-3.11,-3.13,-2.93,
/*3.8*/-2.96,-3.13,-3.17,-3.01,-3.10,-2.98,-3.23,-3.03,-3.00,-3.19,
/*3.9*/-3.10,-2.96,-3.14,-3.19,-3.01,-3.08,-2.98,-3.27,-2.94,-3.15,
/*4.0*/-2.97,-3.18,-3.01,-3.13,-2.95,-3.21,-3.04,-3.15,-2.99,-3.10,
/*4.1*/-3.15,-2.97,-3.08,-2.93,-3.19,-3.01,-3.11,-2.95,-3.23,-3.04,
/*4.2*/-2.98,-3.12,-2.91,-3.09,-3.15,-2.95,-3.06,-3.20,-3.00,-2.93,
/*4.3*/-3.11,-2.94,-3.17,-3.01,-2.96,-3.13,-2.92,-3.08,-3.10,-2.90,
/*4.4*/-2.91,-3.08,-3.12,-2.96,-3.05,-2.93,-3.18,-2.98,-2.95,-3.14,
/*4.5*/-3.05,-2.91,-3.09,-3.14,-2.96,-3.03,-2.93,-3.22,-2.89,-3.10,
/*4.6*/-2.92,-3.13,-2.96,-3.08,-2.90,-3.16,-2.99,-3.10,-2.94,-3.05,
/*4.7*/-3.10,-2.92,-3.03,-2.88,-3.14,-2.96,-3.06,-2.90,-3.18,-2.99,
/*4.8*/-2.94,-3.08,-2.87,-3.05,-3.11,-2.91,-3.02,-3.16,-2.96,-2.89,
/*4.9*/-3.07,-2.90,-3.13,-2.97,-2.92,-3.09,-2.88,-3.04,-3.06,-2.86,
/*5.0*/-2.88,-3.05,-3.09,-2.93,-3.02,-2.90,-3.15,-2.95,-2.92,-3.11,
/*5.1*/-3.03,-2.89,-3.07,-3.12,-2.94,-3.01,-2.91,-3.20,-2.87,-3.08,
/*5.2*/-2.91,-3.12,-2.95,-3.07,-2.89,-3.15,-2.98,-3.09,-2.93,-3.04,
/*5.3*/-3.10,-2.92,-3.03,-2.88,-3.14,-2.96,-3.06,-2.90,-3.18,-2.99,
/*5.4*/-2.93,-3.08,-2.87,-3.04,-3.10,-2.90,-3.01,-3.15,-2.95,-2.88,
/*5.5*/-3.06,-2.89,-3.12,-2.96,-2.91,-3.08,-2.87,-3.03,-3.05,-2.85,
/*5.6*/-2.87,-3.04,-3.08,-2.92,-3.01,-2.89,-3.14,-2.94,-2.91,-3.10,
/*5.7*/-3.02,-2.88,-3.06,-3.11,-2.93,-3.00,-2.90,-3.19,-2.86,-3.07,
/*5.8*/-2.90,-3.11,-2.94,-3.06,-2.88,-3.14,-2.97,-3.08,-2.92,-3.03,
/*5.9*/-3.09,-2.91,-3.02,-2.87,-3.13,-2.95,-3.05,-2.89,-3.17,-2.98,
/*6.0*/-2.93,-3.07,-2.86,-3.04,-3.10,-2.90,-3.01,-3.15,-2.95,-2.88,
/*6.1*/-3.06,-2.89,-3.12,-2.96,-2.91,-3.08,-2.87,-3.03,-3.05,-2.85,
/*6.2*/-2.87,-3.04,-3.08,-2.92,-3.01,-2.89,-3.14,-2.94,-2.91,-3.10,
/*6.3*/-3.03,-2.89,-3.07,-3.12,-2.94,-3.01,-2.91,-3.20,-2.87,-3.08,
/*6.4*/-2.92,-3.13,-2.96,-3.08,-2.90,-3.16,-2.99,-3.10,-2.94,-3.05,
/*6.5*/-3.13,-2.93,-3.05,-2.89,-3.17,-2.98,-3.09,-2.91,-3.22,-3.01,
/*6.6*/-2.96,-3.13,-2.87,-3.09,-3.16,-2.92,-3.05,-3.22,-2.98,-2.90,
/*6.7*/-3.14,-2.90,-3.22,-3.00,-2.93,-3.17,-2.87,-3.10,-3.12,-2.84,
/*6.8*/-2.85,-3.14,-3.20,-2.93,-3.08,-2.88,-3.31,-2.96,-2.91,-3.24,
/*6.9*/-3.12,-2.84,-3.20,-3.30,-2.94,-3.08,-2.88,-3.46,-2.80,-3.22,
/*7.0*/-2.83,-3.35,-2.93,-3.23,-2.77,-3.43,-3.00,-3.27,-2.87,-3.15,
/*7.1*/-3.34,-2.80,-3.13,-2.68,-3.46,-2.92,-3.22,-2.74,-3.58,-3.01,
/*7.2*/-2.85,-3.27,-2.64,-3.18,-3.36];

const thirdSigmaE4 = [
/*1.6*/1.5,1.6,1.5,1.6,1.7,1.6,1.7,1.6,1.8,1.7,
/*1.7*/1.9,1.8,2.0,1.9,2.1,2.0,2.0,2.1,2.0,2.1,
/*1.8*/2.1,2.2,2.1,2.2,2.1,2.3,2.2,2.2,2.3,2.2,
/*1.9*/2.3,2.4,2.3,2.4,2.3,2.5,2.4,2.4,2.5,2.4,
/*2.0*/2.5,2.6,2.5,2.6,2.5,2.5,2.6,2.6,2.5,2.7,
/*2.1*/2.6,2.7,2.6,2.6,2.7,2.6,2.7,2.7,2.6,2.7,
/*2.2*/2.7,2.6,2.7,2.6,2.8,2.7,2.6,2.7,2.8,2.7,
/*2.3*/2.6,2.5,2.6,2.7,2.6,2.5,2.6,2.6,2.5,2.6,
/*2.4*/2.4,2.3,2.5,2.4,2.3,2.4,2.5,2.3,2.4,2.3,
/*2.5*/2.2,2.1,2,2.3,2.1,2.2,1.9,2.1,2.2,2,
/*2.6*/2,2.2,2.1,2.3,2.1,2,2.2,1.9,2.1,2.2,
/*2.7*/2.1,2,2.2,2.1,1.9,2.3,2.1,2.2,2,2.1,
/*2.8*/2.2,2.1,2,2.3,2.1,2.2,1.9,2.1,2.2,2,
/*2.9*/2,2.2,2.1,2.3,2.1,2,2.2,1.9,2.1,2.2,
/*3.0*/2.1,2,2.2,2.1,1.9,2.3,2.1,2.2,2,2.1,
/*3.1*/2.2,2.1,2,2.3,2.1,2.2,1.9,2.1,2.2,2,
/*3.2*/2,2.2,2.1,2.3,2.1,2,2.2,1.9,2.1,2.2,
/*3.3*/2.1,2,2.2,2.1,1.9,2.3,2.1,2.2,2,2.1,
/*3.4*/2.2,2.1,2,2.3,2.1,2.2,1.9,2.1,2.2,2,
/*3.5*/2,2.2,2.1,2.3,2.1,2,2.2,1.9,2.1,2.2,
/*3.6*/2.1,2,2.2,2.1,1.9,2.3,2.1,2.2,2,2.1,
/*3.7*/2.2,2.1,2,2.3,2.1,2.2,1.9,2.1,2.2,2,
/*3.8*/2,2.2,2.1,2.3,2.1,2,2.2,1.9,2.1,2.2,
/*3.9*/2.1,2,2.2,2.1,1.9,2.3,2.1,2.2,2,2.1,
/*4.0*/2.2,2.1,2,2.3,2.1,2.2,1.9,2.1,2.2,2,
/*4.1*/2,2.2,2.1,2.3,2.1,2,2.2,1.9,2.1,2.2,
/*4.2*/2.1,2,2.2,2.1,1.9,2.3,2.1,2.2,2,2.1,
/*4.3*/2.2,2.1,2,2.3,2.1,2.2,1.9,2.1,2.2,2,
/*4.4*/2,2.2,2.1,2.3,2.1,2,2.2,1.9,2.1,2.2,
/*4.5*/2.1,2,2.2,2.1,1.9,2.3,2.1,2.2,2,2.1,
/*4.6*/2.2,2.1,2,2.3,2.1,2.2,1.9,2.1,2.2,2,
/*4.7*/2,2.2,2.1,2.3,2.1,2,2.2,1.9,2.1,2.2,
/*4.8*/2.1,2,2.2,2.1,1.9,2.3,2.1,2.2,2,2.1,
/*4.9*/2.2,2.1,2,2.3,2.1,2.2,1.9,2.1,2.2,2,
/*5.0*/2,2.2,2.1,2.3,2.1,2,2.2,1.9,2.1,2.2,
/*5.1*/2.1,2,2.2,2.1,1.9,2.3,2.1,2.2,2,2.1,
/*5.2*/2.2,2.1,2,2.3,2.1,2.2,1.9,2.1,2.2,2,
/*5.3*/2,2.2,2.1,2.3,2.1,2,2.2,1.9,2.1,2.2,
/*5.4*/2.1,2,2.2,2.1,1.9,2.3,2.1,2.2,2,2.1,
/*5.5*/2.2,2.1,2,2.3,2.1,2.2,1.9,2.1,2.2,2,
/*5.6*/2,2.2,2.1,2.3,2.1,2,2.2,1.9,2.1,2.2,
/*5.7*/2.1,2,2.2,2.1,1.9,2.3,2.1,2.2,2,2.1,
/*5.8*/2.2,2.1,2,2.3,2.1,2.2,1.9,2.1,2.2,2,
/*5.9*/2,2.2,2.1,2.3,2.1,2,2.2,1.9,2.1,2.2,
/*6.0*/2.1,2,2.2,2.1,1.9,2.3,2.1,2.2,2,2.1,
/*6.1*/2.2,2.1,2,2.3,2.1,2.2,1.9,2.1,2.2,2,
/*6.2*/2,2.2,2.1,2.3,2.1,2,2.2,1.9,2.1,2.2,
/*6.3*/2.1,2,2.2,2.1,1.9,2.3,2.1,2.2,2,2.1,
/*6.4*/2.3,2.4,2.3,2.5,2.4,2.4,2.5,2.6,2.5,2.6,
/*6.5*/2.6,2.8,2.7,2.8,2.9,2.8,3.0,2.9,3.0,3.1,
/*6.6*/3.1,3.2,3.1,3.3,3.3,3.4,3.3,3.5,3.5,3.6,
/*6.7*/3.6,3.8,3.7,3.9,3.8,4.0,4.0,4.2,4.1,4.3,
/*6.8*/4.4,4.6,4.5,4.8,4.7,5.0,5.0,5.2,5.4,5.5,
/*6.9*/5.7,5.9,5.9,6.2,6.2,6.5,6.6,6.8,7.1,7.4,
/*7.0*/7.8,8.1,8.3,8.7,9.0,9.4,9.7,10.2,10.7,11.4,
/*7.1*/12.1,12.7,13.3,14,14.8,15.6,16.3,17.2,18.3,19.8,
/*7.2*/22,25,29,34,39];

const flaggedQ = [7.24];
const flaggedLogI = [-3.28];

const xTicks = [0,1,2,3,4,5,6,7];
const yTicks = [-3,-2,-1,0];

// ---------- drawing ----------
const svg = d3.select('#c');
const x = d3.scaleLinear().domain([0, 7.25]).range([4, 729]);
const y = d3.scaleLinear().domain([-3.7, 0.29]).range([399, 0]);
const axisColor = '#a3b6e0';
const ptColor = '#3462b4';
const barColor = '#c6d4ed';
const logMin = y.domain()[0];

svg.append('clipPath').attr('id','pc').append('rect')
  .attr('x', 4).attr('y', 0).attr('width', 725).attr('height', 399);
const plot = svg.append('g').attr('clip-path','url(#pc)');

function rows(qs, ls, ss) {
  return qs.map((q,i)=>({q, L: ls[i], s: (ss[i] === undefined ? 2 : ss[i]) * 1e-4}));
}
const all = rows(noisyQ, noisyLogI, noisySigmaE4)
  .concat(rows(halfQ, halfLogI, halfSigmaE4))
  .concat(rows(thirdQ, thirdLogI, thirdSigmaE4))
  .sort((a,b)=>a.q-b.q);

function topY(d){ return y(Math.log10(Math.pow(10,d.L)+d.s)); }
function botY(d){ const lo = Math.pow(10,d.L)-d.s; return y(lo>0 ? Math.max(Math.log10(lo), logMin-0.1) : logMin-0.1); }

// error bars
plot.append('g').selectAll('line').data(all).join('line')
  .attr('x1', d=>x(d.q)).attr('x2', d=>x(d.q))
  .attr('y1', topY).attr('y2', botY)
  .attr('stroke', barColor).attr('stroke-width', 1);

// excluded (light) points
plot.append('g').selectAll('circle').data(excludedQ).join('circle')
  .attr('cx', q=>x(q)).attr('cy', (q,i)=>y(excludedLogI[i]))
  .attr('r', 2).attr('fill', '#bccdec');

plot.append('g').selectAll('circle').data(smoothQ).join('circle')
  .attr('cx', q=>x(q)).attr('cy', (q,i)=>y(smoothLogI[i]))
  .attr('r', 2.1).attr('fill', ptColor);

plot.append('g').selectAll('circle').data(all).join('circle')
  .attr('cx', d=>x(d.q)).attr('cy', d=>y(d.L))
  .attr('r', 1.9).attr('fill', ptColor);

plot.append('g').selectAll('circle').data(flaggedQ).join('circle')
  .attr('cx', q=>x(q)).attr('cy', (q,i)=>y(flaggedLogI[i]))
  .attr('r', 1.8).attr('fill', '#e0443a');

// axes
const xAxis = d3.axisBottom(x).tickValues(xTicks).tickFormat(d3.format('d'))
  .tickSizeInner(-7).tickSizeOuter(0).tickPadding(15);
const gx = svg.append('g').attr('transform','translate(0,399.5)').call(xAxis);
gx.select('.domain').attr('stroke', axisColor);
gx.selectAll('.tick line').attr('stroke', axisColor);
gx.selectAll('.tick text').attr('fill', axisColor)
  .style('font-family','DejaVu Sans, sans-serif').style('font-size','16px');

const yAxis = d3.axisLeft(y).tickValues(yTicks).tickFormat('')
  .tickSizeInner(-8).tickSizeOuter(0);
const gy = svg.append('g').attr('transform','translate(4.5,0)').call(yAxis);
gy.select('.domain').attr('stroke', axisColor);
gy.selectAll('.tick line').attr('stroke', axisColor);
</script>
</body></html>
